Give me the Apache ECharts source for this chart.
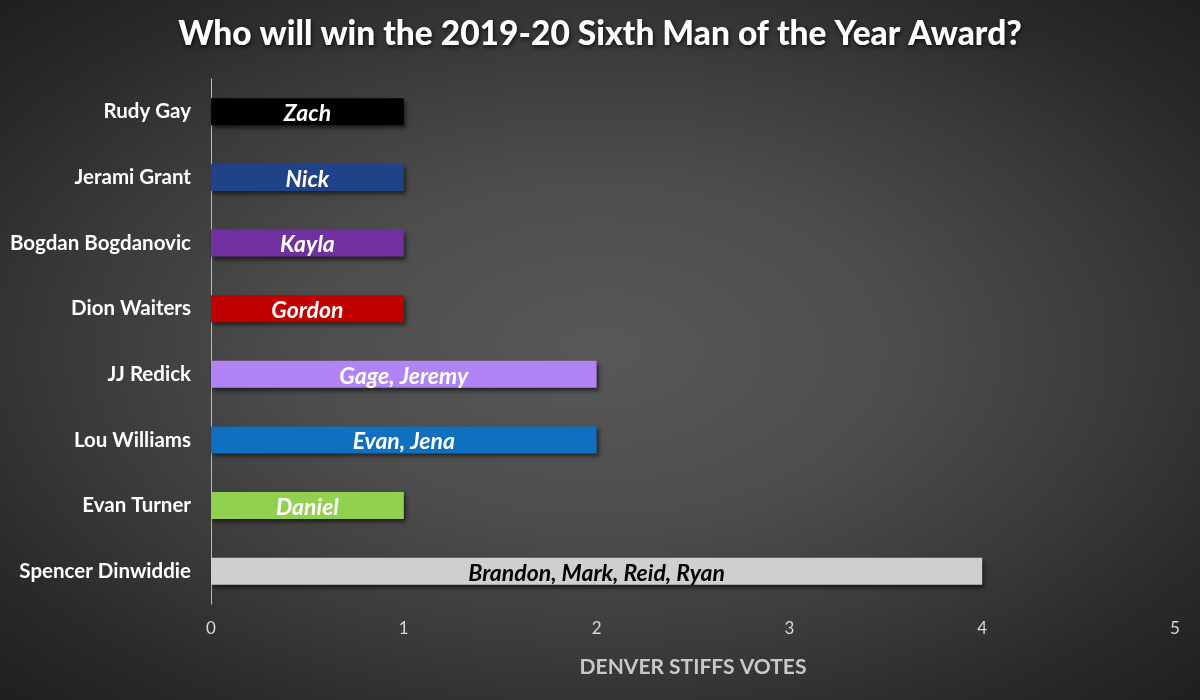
<!DOCTYPE html>
<html>
<head>
<meta charset="utf-8">
<script src="https://cdn.jsdelivr.net/npm/echarts@6/dist/echarts.min.js"></script>
<style>
  html, body { margin: 0; padding: 0; background: #2b2b2b; }
  #chart {
    width: 1200px; height: 700px;
    background: radial-gradient(ellipse farthest-corner at 50% 50%,
      #585858 0%, #4d4d4d 35%, #3a3a3a 62%, #2a2a2a 82%, #1f1f1f 100%);
  }
</style>
</head>
<body>
<div id="chart"></div>
<script>
// Players, top to bottom
const players = ['Rudy Gay', 'Jerami Grant', 'Bogdan Bogdanovic', 'Dion Waiters',
                 'JJ Redick', 'Lou Williams', 'Evan Turner', 'Spencer Dinwiddie'];
// Number of staff votes per player
const votes = [1, 1, 1, 1, 2, 2, 1, 4];
// Who voted for each player
const voters = ['Zach', 'Nick', 'Kayla', 'Gordon', 'Gage, Jeremy', 'Evan, Jena',
                'Daniel', 'Brandon, Mark, Reid, Ryan'];
const barColors = ['#000000', '#1f4289', '#7030a0', '#c00000',
                   '#b084f5', '#1070c0', '#92d050', '#d0cece'];
const labelColors = ['#ffffff', '#ffffff', '#ffffff', '#ffffff',
                     '#ffffff', '#ffffff', '#ffffff', '#000000'];
const xTicks = [0, 1, 2, 3, 4, 5];

const FONT = 'Lato, "Open Sans", sans-serif';

const chart = echarts.init(document.getElementById('chart'), null, { renderer: 'canvas' });

const data = votes.map((v, i) => ({
  value: v,
  name: voters[i],
  itemStyle: { color: barColors[i] },
  label: { color: labelColors[i] }
}));

chart.setOption({
  backgroundColor: 'transparent',
  title: {
    text: 'Who will win the 2019-20 Sixth Man of the Year Award?',
    left: 'center',
    top: 12,
    textStyle: {
      color: '#ffffff',
      fontFamily: FONT,
      fontWeight: 900,
      fontSize: 33.5,
      textShadowColor: 'rgba(0,0,0,0.7)',
      textShadowBlur: 4,
      textShadowOffsetX: 1,
      textShadowOffsetY: 2
    }
  },
  grid: { left: 211, right: 25, top: 79, bottom: 96 },
  xAxis: {
    type: 'value',
    min: 0,
    max: 5,
    interval: 1,
    name: 'DENVER STIFFS VOTES',
    nameLocation: 'middle',
    nameGap: 53,
    nameTextStyle: { color: '#c8c8c8', fontFamily: FONT, fontWeight: 'bold', fontSize: 21 },
    axisLine: { show: false },
    axisTick: { show: false },
    splitLine: { show: false },
    axisLabel: {
      color: '#d8d8d8', fontFamily: FONT, fontSize: 17, margin: 16,
      formatter: v => xTicks.includes(v) ? String(v) : ''
    }
  },
  yAxis: {
    type: 'category',
    inverse: true,
    data: players,
    axisLine: { show: true, onZero: false, lineStyle: { color: '#b8b8b8', width: 1 } },
    axisTick: { show: false },
    splitLine: { show: false },
    axisLabel: {
      color: '#ffffff', fontFamily: FONT, fontWeight: 'bold', fontSize: 20.5, margin: 20
    }
  },
  series: [{
    type: 'bar',
    data: data,
    barWidth: 27,
    itemStyle: {
      shadowColor: 'rgba(0,0,0,0.55)',
      shadowBlur: 4,
      shadowOffsetX: 2,
      shadowOffsetY: 3
    },
    label: {
      show: true,
      position: 'inside',
      offset: [0, 2],
      formatter: p => p.name,
      fontFamily: FONT,
      fontWeight: 'bold',
      fontStyle: 'italic',
      fontSize: 23
    },
    animation: false
  }]
});
</script>
</body>
</html>
